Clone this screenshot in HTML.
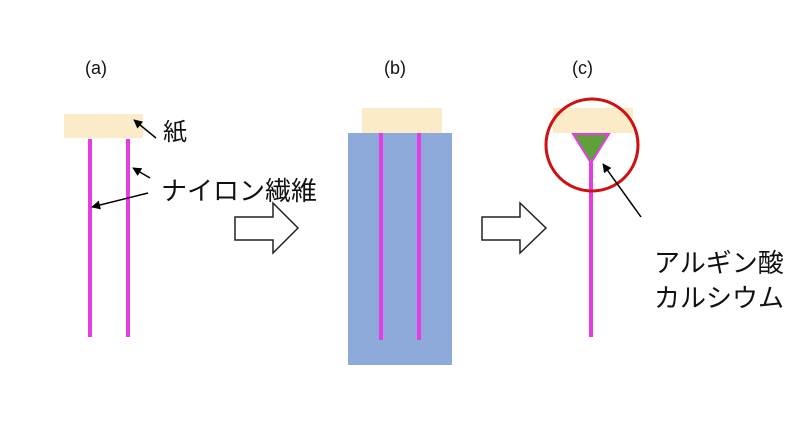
<!DOCTYPE html>
<html><head><meta charset="utf-8"><style>
html,body{margin:0;padding:0;background:#fff;}
svg{display:block;}
text{font-family:"Liberation Sans","Noto Sans CJK JP",sans-serif;fill:#111;}
</style></head><body>
<svg width="800" height="437" viewBox="0 0 800 437" xmlns="http://www.w3.org/2000/svg">
<defs>
<marker id="ah" viewBox="0 0 10 10" refX="9" refY="5" markerWidth="9" markerHeight="9" orient="auto" markerUnits="userSpaceOnUse">
<path d="M0,0 L10,5 L0,10 z" fill="#000"/>
</marker>
</defs>
<!-- (a) -->
<text x="85" y="74" font-size="18">(a)</text>
<rect x="64" y="114" width="79" height="24" fill="#fcebc8"/>
<line x1="90" y1="139" x2="90" y2="337" stroke="#e63ce6" stroke-width="4"/>
<line x1="128" y1="139" x2="128" y2="337" stroke="#e63ce6" stroke-width="4"/>
<line x1="156" y1="138" x2="134" y2="120" stroke="#000" stroke-width="1.5" marker-end="url(#ah)"/>
<text x="163" y="140" font-size="24">紙</text>
<line x1="150" y1="178" x2="133" y2="168" stroke="#000" stroke-width="1.5" marker-end="url(#ah)"/>
<line x1="148" y1="193" x2="92" y2="207" stroke="#000" stroke-width="1.5" marker-end="url(#ah)"/>
<text x="161" y="200" font-size="26">ナイロン繊維</text>
<path d="M235,217 L273,217 L273,203 L298,228 L273,253 L273,240 L235,240 Z" fill="#fff" stroke="#222" stroke-width="1.5"/>
<!-- (b) -->
<text x="384" y="74" font-size="18">(b)</text>
<rect x="362" y="108" width="80" height="25" fill="#fcebc8"/>
<rect x="348" y="133" width="104" height="232" fill="#8eaadb"/>
<line x1="381" y1="133" x2="381" y2="340" stroke="#e63ce6" stroke-width="4"/>
<line x1="419" y1="133" x2="419" y2="340" stroke="#e63ce6" stroke-width="4"/>
<path d="M482,217 L520,217 L520,203 L546,228 L520,253 L520,240 L482,240 Z" fill="#fff" stroke="#222" stroke-width="1.5"/>
<!-- (c) -->
<text x="572" y="74" font-size="18">(c)</text>
<rect x="553" y="108" width="80" height="25" fill="#fcebc8"/>
<line x1="591" y1="162" x2="591" y2="337" stroke="#e63ce6" stroke-width="4"/>
<path d="M573,134 L609,134 L591,163 Z" fill="#5fa03a" stroke="#e63ce6" stroke-width="2"/>
<circle cx="592" cy="145" r="46" fill="none" stroke="#d01010" stroke-width="3"/>
<line x1="641" y1="217" x2="603" y2="164" stroke="#000" stroke-width="1.5" marker-end="url(#ah)"/>
<text x="654" y="272" font-size="26">アルギン酸</text>
<text x="654" y="307" font-size="26">カルシウム</text>
</svg>
</body></html>
